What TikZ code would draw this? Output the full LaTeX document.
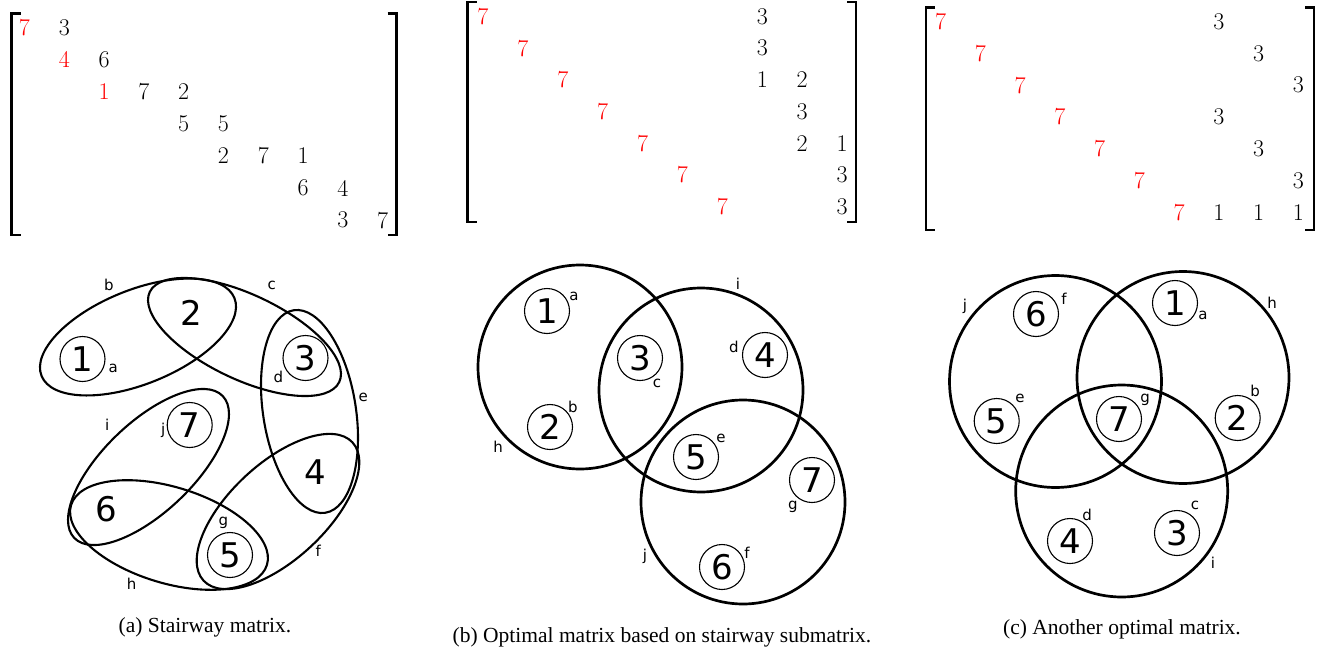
\documentclass[tikz,border=0pt]{standalone}
\usepackage{fontspec}
\newfontfamily\dejavu{DejaVu Sans}
\newfontfamily\capfont{Liberation Serif}
\begin{document}
\begin{tikzpicture}[x=1pt,y=-1pt,
  ent/.style={inner sep=0pt,font=\fontsize{24}{28}\selectfont},
  brk/.style={line width=2.3pt},
  vtx/.style={circle,draw,line width=1.1pt,minimum size=45pt,inner sep=0pt,font=\dejavu\fontsize{34}{40}\selectfont},
  bare/.style={inner sep=0pt,font=\dejavu\fontsize{34}{40}\selectfont},
  lbl/.style={inner sep=0pt,font=\dejavu\fontsize{15}{18}\selectfont},
  hedge/.style={line width=2.1pt},
  bigc/.style={line width=2.7pt},
  captxt/.style={font=\capfont\fontsize{21.5}{25}\selectfont,inner sep=0pt}
]
\useasboundingbox (0,0) rectangle (1334,656);

% ---------- matrix (a)
\draw[brk] (20.5,13.5) -- (11.5,13.5) -- (11.5,235) -- (20.5,235);
\draw[brk] (387.5,13.5) -- (396.5,13.5) -- (396.5,235) -- (387.5,235);
\foreach \r/\c/\v/\col in {1/1/7/red,1/2/3/black,2/2/4/red,2/3/6/black,3/3/1/red,3/4/7/black,3/5/2/black,4/5/5/black,4/6/5/black,5/6/2/black,5/7/7/black,5/8/1/black,6/8/6/black,6/9/4/black,7/9/3/black,7/10/7/black}
  \node[ent,text=\col] (ma-\r-\c) at ({24.5+39.8*(\c-1)},{27.5+32.1*(\r-1)}) {\v};

% ---------- matrix (b)
\draw[brk] (476.5,2) -- (467.5,2) -- (467.5,222) -- (476.5,222);
\draw[brk] (847,2) -- (856,2) -- (856,222) -- (847,222);
\foreach \r/\c/\v/\col in {1/1/7/red,2/2/7/red,3/3/7/red,4/4/7/red,5/5/7/red,6/6/7/red,7/7/7/red,1/8/3/black,2/8/3/black,3/8/1/black,3/9/2/black,4/9/3/black,5/9/2/black,5/10/1/black,6/10/3/black,7/10/3/black}
  \node[ent,text=\col] (mb-\r-\c) at ({483+39.9*(\c-1)},{16.5+31.7*(\r-1)}) {\v};

% ---------- matrix (c)
\draw[brk] (935,7.5) -- (926,7.5) -- (926,230) -- (935,230);
\draw[brk] (1305,7.5) -- (1314,7.5) -- (1314,230) -- (1305,230);
\foreach \r/\c/\v/\col in {1/1/7/red,2/2/7/red,3/3/7/red,4/4/7/red,5/5/7/red,6/6/7/red,7/7/7/red,1/8/3/black,2/9/3/black,3/10/3/black,4/8/3/black,5/9/3/black,6/10/3/black,7/8/1/black,7/9/1/black,7/10/1/black}
  \node[ent,text=\col] (mc-\r-\c) at ({940.7+39.73*(\c-1)},{21.5+31.8*(\r-1)}) {\v};

% ---------- hypergraph (a)
\draw[hedge,rotate around={22:(138,337)}] (138,337) ellipse [x radius=104pt,y radius=47pt];
\draw[hedge,rotate around={-25.4:(244.5,337)}] (244.5,337) ellipse [x radius=104.9pt,y radius=42.3pt];
\draw[hedge,rotate around={8.85:(309.5,411.5)}] (309.5,411.5) ellipse [x radius=46.4pt,y radius=102.5pt];
\draw[hedge,rotate around={42.9:(278,511.5)}] (278,511.5) ellipse [x radius=101.6pt,y radius=48pt];
\draw[hedge,rotate around={-17:(169,535)}] (169,535) ellipse [x radius=102.4pt,y radius=48pt];
\draw[hedge,rotate around={43.7:(148.5,467)}] (148.5,467) ellipse [x radius=102.7pt,y radius=44.9pt];

\node[vtx] (a1) at (82.5,359) {1};
\node[bare] (a2) at (191,312.7) {2};
\node[vtx] (a3) at (305.5,358) {3};
\node[bare] (a4) at (315,471.7) {4};
\node[vtx] (a5) at (230,555) {5};
\node[bare] (a6) at (106,509.3) {6};
\node[vtx] (a7) at (189.7,425) {7};
\node[lbl] (la) at (113.3,368.3) {a};
\node[lbl] (lb) at (109,285) {b};
\node[lbl] (lc) at (271.7,285) {c};
\node[lbl] (ld) at (278.3,376.7) {d};
\node[lbl] (le) at (363.3,397.3) {e};
\node[lbl] (lf) at (318.3,550.7) {f};
\node[lbl] (lg) at (223.3,522.7) {g};
\node[lbl] (lh) at (131.7,583.3) {h};
\node[lbl] (li) at (107.3,425) {i};
\node[lbl] (lj) at (163.3,430) {j};

% ---------- hypergraph (b)
\draw[bigc] (580,367) circle [radius=102pt];
\draw[bigc] (701,390) circle [radius=102pt];
\draw[bigc] (743,502) circle [radius=102pt];
\node[vtx] (b1) at (547,311) {1};
\node[vtx] (b2) at (550,427) {2};
\node[vtx] (b3) at (640,358) {3};
\node[vtx] (b4) at (765,355) {4};
\node[vtx] (b5) at (696,457) {5};
\node[vtx] (b6) at (722,567) {6};
\node[vtx] (b7) at (812,480) {7};
\node[lbl] (lba) at (574,296) {a};
\node[lbl] (lbb) at (573,407) {b};
\node[lbl] (lbc) at (657,383) {c};
\node[lbl] (lbd) at (734,347) {d};
\node[lbl] (lbe) at (721,438) {e};
\node[lbl] (lbf) at (747,553) {f};
\node[lbl] (lbg) at (793,507) {g};
\node[lbl] (lbh) at (498,447) {h};
\node[lbl] (lbi) at (738,284) {i};
\node[lbl] (lbj) at (645,556) {j};

% ---------- hypergraph (c)
\draw[bigc] (1055.5,381.5) circle [radius=106pt];
\draw[bigc] (1183,377.5) circle [radius=106pt];
\draw[bigc] (1121.7,491) circle [radius=106pt];
\node[vtx] (c1) at (1175,303) {1};
\node[vtx] (c2) at (1237.7,418) {2};
\node[vtx] (c3) at (1177,533) {3};
\node[vtx] (c4) at (1070,541) {4};
\node[vtx] (c5) at (996.7,421) {5};
\node[vtx] (c6) at (1036,314) {6};
\node[vtx] (c7) at (1119,419) {7};
\node[lbl] (lca) at (1203,315) {a};
\node[lbl] (lcb) at (1255,391) {b};
\node[lbl] (lcc) at (1195,505) {c};
\node[lbl] (lcd) at (1087,515) {d};
\node[lbl] (lce) at (1020,398) {e};
\node[lbl] (lcf) at (1064,299) {f};
\node[lbl] (lcg) at (1145,400) {g};
\node[lbl] (lch) at (1272,303) {h};
\node[lbl] (lci) at (1213,563) {i};
\node[lbl] (lcj) at (965,306) {j};

% ---------- captions
\node[captxt] (capa) at (205,627.5) {(a) Stairway matrix.};
\node[captxt] (capb) at (662,637.5) {(b) Optimal matrix based on stairway submatrix.};
\node[captxt] (capc) at (1122,629.5) {(c) Another optimal matrix.};
\end{tikzpicture}
\end{document}
